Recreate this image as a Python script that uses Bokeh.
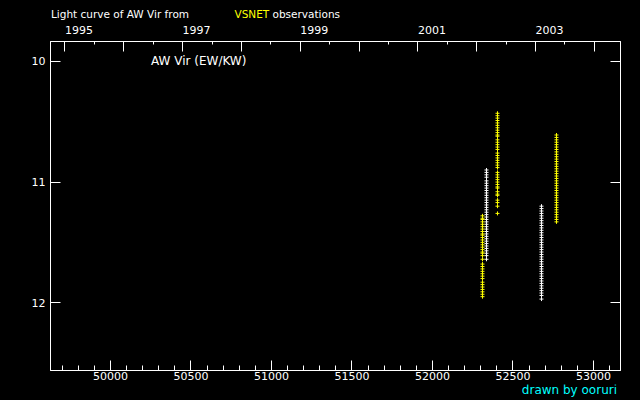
from bokeh.plotting import figure
from bokeh.layouts import column
from bokeh.models import Range1d, LinearAxis, FixedTicker, Label, ColumnDataSource
from bokeh.core.properties import value
from bokeh.embed import file_html
from bokeh.resources import INLINE

# ---------------- data ----------------
# VSNET (yellow) nights: MJD of each night and magnitudes observed on it
yellow_night_mjd = [52310.7, 52403.8, 52770.2]
yellow_mags_night1 = [11.28, 11.30, 11.31, 11.33, 11.35, 11.37, 11.39, 11.41, 11.43, 11.44,
                      11.46, 11.48, 11.50, 11.52, 11.54, 11.56, 11.58, 11.59, 11.61, 11.64,
                      11.68, 11.70, 11.72, 11.74, 11.76, 11.78, 11.80, 11.83, 11.85, 11.87,
                      11.89, 11.91, 11.93, 11.95]
yellow_mags_night2 = [10.43, 10.45, 10.47, 10.49, 10.51, 10.53, 10.55, 10.57, 10.59, 10.61,
                      10.62, 10.65, 10.67, 10.69, 10.71, 10.73, 10.76, 10.78, 10.80, 10.82,
                      10.84, 10.86, 10.88, 10.92, 10.94, 10.96, 10.98, 11.00, 11.02, 11.04,
                      11.05, 11.08, 11.10, 11.11, 11.15, 11.17, 11.20, 11.26]
yellow_mags_night3 = [10.61, 10.63, 10.65, 10.67, 10.69, 10.71, 10.73, 10.75, 10.77, 10.79,
                      10.81, 10.83, 10.85, 10.87, 10.89, 10.91, 10.93, 10.95, 10.97, 10.99,
                      11.01, 11.03, 11.05, 11.07, 11.09, 11.11, 11.13, 11.15, 11.17, 11.19,
                      11.21, 11.23, 11.25, 11.27, 11.29, 11.31, 11.33]

# other observations (white)
white_night_mjd = [52335.5, 52677.1]
white_mags_night1 = [10.90, 10.92, 10.94, 10.96, 10.99, 11.01, 11.03, 11.05, 11.07, 11.09,
                     11.11, 11.13, 11.15, 11.17, 11.19, 11.21, 11.23, 11.25, 11.27, 11.29,
                     11.31, 11.33, 11.35, 11.37, 11.39, 11.41, 11.43, 11.45, 11.47, 11.49,
                     11.51, 11.53, 11.55, 11.57, 11.59, 11.61, 11.64]
white_mags_night2 = [11.20, 11.22, 11.24, 11.26, 11.28, 11.30, 11.32, 11.34, 11.36, 11.38,
                     11.40, 11.42, 11.44, 11.46, 11.48, 11.50, 11.52, 11.54, 11.56, 11.58,
                     11.60, 11.62, 11.64, 11.66, 11.68, 11.70, 11.72, 11.74, 11.76, 11.78,
                     11.80, 11.82, 11.84, 11.86, 11.88, 11.90, 11.92, 11.94, 11.97]

# axis ticks / labels
x_ticks = [50000, 50500, 51000, 51500, 52000, 52500, 53000]
x_tick_labels = ["50000", "50500", "51000", "51500", "52000", "52500", "53000"]
year_ticks = [1995, 1996, 1997, 1998, 1999, 2000, 2001, 2002, 2003, 2004]
year_tick_labels = ["1995", "", "1997", "", "1999", "", "2001", "", "2003", ""]
y_ticks = [10, 11, 12]
y_tick_labels = ["10", "11", "12"]

# texts
title_parts = ["Light curve of AW Vir from", "VSNET", "observations"]
title_colors = ["white", "#ffff00", "white"]
star_label = "AW Vir (EW/KW)"
credit = "drawn by ooruri"

x_start, x_end = 49628.0, 53167.7
y_bottom, y_top = 12.562, 9.835


def mjd_to_year(m):
    return 1995.0 + (m - 49718.0) / 365.25


FONT = "DejaVu Sans"
W = 640
FRAME_L, FRAME_R = 50, 620   # frame edges in page pixels (strips share them)

# ---------------- title strip ----------------
t = figure(width=W, height=20, output_backend="svg", toolbar_location=None,
           x_range=Range1d(FRAME_L, FRAME_R), y_range=Range1d(20, 0),
           x_axis_location=None, y_axis_location=None,
           min_border=0, min_border_left=FRAME_L, min_border_right=W - FRAME_R,
           min_border_top=0, min_border_bottom=0,
           background_fill_color="black", border_fill_color="black",
           outline_line_color=None)
t.grid.visible = False
t.text(x=[50.5, 234, 272], y=[13, 13, 13], text=title_parts, text_color=title_colors,
       text_font=value(FONT), text_font_size="10.5px", text_baseline="middle", text_align="left")

# ---------------- main plot ----------------
yx, yy = [], []
for mjd, mags in zip(yellow_night_mjd, [yellow_mags_night1, yellow_mags_night2, yellow_mags_night3]):
    yx += [mjd] * len(mags)
    yy += mags
wx, wy = [], []
for mjd, mags in zip(white_night_mjd, [white_mags_night1, white_mags_night2]):
    wx += [mjd] * len(mags)
    wy += mags

yellow_src = ColumnDataSource(dict(mjd=yx, mag=yy))
white_src = ColumnDataSource(dict(mjd=wx, mag=wy))

p = figure(width=W, height=364, output_backend="svg", toolbar_location=None,
           x_range=Range1d(x_start, x_end), y_range=Range1d(y_bottom, y_top),
           x_axis_location=None, y_axis_location=None,
           min_border_left=FRAME_L, min_border_right=W - FRAME_R, min_border_top=20, min_border_bottom=14,
           background_fill_color="black", border_fill_color="black",
           outline_line_color="white", outline_line_width=1)
p.grid.visible = False
p.extra_x_ranges = {"year": Range1d(mjd_to_year(x_start), mjd_to_year(x_end))}


def style_axis(ax):
    ax.axis_line_color = "white"
    ax.major_tick_line_color = "white"
    ax.minor_tick_line_color = "white"
    ax.major_label_text_color = "white"
    ax.major_label_text_font = FONT
    ax.major_label_text_font_size = "11px"
    ax.major_tick_out = 0
    ax.minor_tick_out = 0


# bottom MJD axis
bottom = LinearAxis(ticker=FixedTicker(ticks=x_ticks,
                                       minor_ticks=[v for v in range(49700, 53200, 100) if v % 500]))
style_axis(bottom)
bottom.major_tick_in = 10
bottom.minor_tick_in = 5
bottom.major_label_standoff = 1
bottom.major_label_overrides = {tk: lb for tk, lb in zip(x_ticks, x_tick_labels)}
p.add_layout(bottom, "below")

# top year axis (labels start at their tick)
FS = "\u2007"
top = LinearAxis(x_range_name="year",
                 ticker=FixedTicker(ticks=year_ticks, minor_ticks=[yv + 0.5 for yv in year_ticks]))
style_axis(top)
top.major_tick_in = 10
top.minor_tick_in = 3
top.major_label_standoff = 5
top.major_label_overrides = {tk: (FS * len(lb) + lb if lb else "") for tk, lb in zip(year_ticks, year_tick_labels)}
p.add_layout(top, "above")

# left magnitude axis
left = LinearAxis(ticker=FixedTicker(ticks=y_ticks, minor_ticks=[]))
style_axis(left)
left.major_tick_in = 10
left.minor_tick_in = 0
left.major_label_standoff = 5
left.major_label_overrides = {tk: lb for tk, lb in zip(y_ticks, y_tick_labels)}
p.add_layout(left, "left")

# right magnitude axis (ticks only)
right = LinearAxis(ticker=FixedTicker(ticks=y_ticks, minor_ticks=[]))
style_axis(right)
right.major_tick_in = 10
right.minor_tick_in = 0
right.major_label_standoff = 0
right.major_label_overrides = {tk: "" for tk in y_ticks}
p.add_layout(right, "right")

# points
p.scatter("mjd", "mag", source=white_src, marker="cross", size=4, line_color="white", line_width=1)
p.scatter("mjd", "mag", source=yellow_src, marker="cross", size=4, line_color="#ffff00", line_width=1)

# star name inside the frame (screen units from frame bottom-left)
p.add_layout(Label(text=star_label, x=100.5, y=310, x_units="screen", y_units="screen",
                   text_color="white", text_font=FONT, text_font_size="12px",
                   text_align="left", text_baseline="middle"))

# ---------------- credit strip ----------------
b = figure(width=W, height=16, output_backend="svg", toolbar_location=None,
           x_range=Range1d(FRAME_L, FRAME_R), y_range=Range1d(16, 0),
           x_axis_location=None, y_axis_location=None,
           min_border=0, min_border_left=FRAME_L, min_border_right=W - FRAME_R,
           min_border_top=0, min_border_bottom=0,
           background_fill_color="black", border_fill_color="black",
           outline_line_color=None)
b.grid.visible = False
b.text(x=[616.5], y=[5.5], text=[credit], text_color="#00ffff",
       text_font=value(FONT), text_font_size="12px", text_baseline="middle", text_align="right")

layout = column(t, p, b, spacing=0)
html = file_html(layout, INLINE)
html = html.replace("<head>", "<head><style>html,body{background:#000;}</style>", 1)
open("out.html", "w").write(html)
